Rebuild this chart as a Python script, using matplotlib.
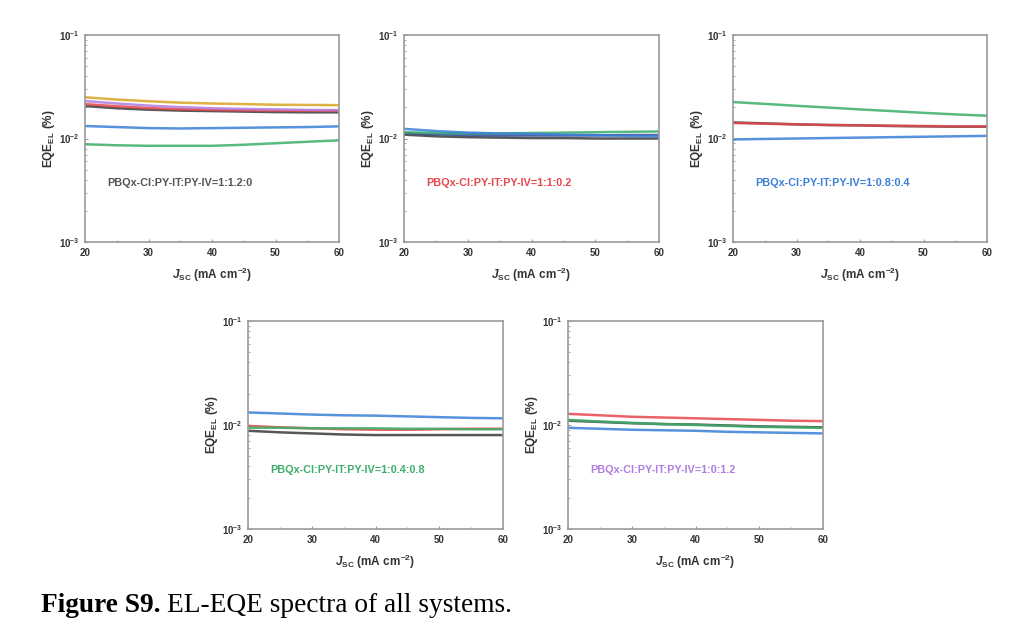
import matplotlib
matplotlib.use("Agg")
import matplotlib.pyplot as plt
from matplotlib.ticker import LogLocator, NullFormatter, MultipleLocator

plt.rcParams['font.family'] = ['Liberation Sans', 'DejaVu Sans']
plt.rcParams['mathtext.fontset'] = 'custom'
plt.rcParams['mathtext.rm'] = 'Liberation Sans'
plt.rcParams['mathtext.it'] = 'Liberation Sans:italic:bold'
plt.rcParams['mathtext.bf'] = 'Liberation Sans:bold'

jsc = [20, 25, 30, 35, 40, 45, 50, 55, 60]

# Panel 1: 1:1.2:0
p1_orange = [0.0250, 0.0238, 0.0229, 0.0222, 0.0218, 0.0215, 0.0212, 0.0211, 0.0210]
p1_purple = [0.0230, 0.0218, 0.0208, 0.0201, 0.0196, 0.0193, 0.0191, 0.0189, 0.0188]
p1_red = [0.0215, 0.0205, 0.0197, 0.0192, 0.0189, 0.0187, 0.0186, 0.0185, 0.0185]
p1_black = [0.0206, 0.0196, 0.0190, 0.0186, 0.0184, 0.0182, 0.0180, 0.0179, 0.0179]
p1_blue = [0.0132, 0.0129, 0.0126, 0.0125, 0.0126, 0.0127, 0.0128, 0.0129, 0.0131]
p1_green = [0.0088, 0.0086, 0.0085, 0.0085, 0.0085, 0.0087, 0.0090, 0.0093, 0.0096]

# Panel 2: 1:1:0.2
p2_red = [0.0113, 0.0110, 0.0108, 0.0107, 0.0107, 0.0107, 0.0107, 0.0108, 0.0108]
p2_green = [0.0115, 0.0113, 0.0112, 0.0112, 0.0113, 0.0114, 0.0115, 0.0116, 0.0117]
p2_blue = [0.0124, 0.0118, 0.0114, 0.0112, 0.0111, 0.0109, 0.0108, 0.0106, 0.0105]
p2_black = [0.0109, 0.0105, 0.0103, 0.0102, 0.0101, 0.0101, 0.0100, 0.0100, 0.0100]

# Panel 3: 1:0.8:0.4
p3_green = [0.0225, 0.0216, 0.0207, 0.0199, 0.0191, 0.0184, 0.0177, 0.0171, 0.0166]
p3_black = [0.0143, 0.0140, 0.0137, 0.0135, 0.0134, 0.0132, 0.0131, 0.0130, 0.0130]
p3_red = [0.0141, 0.0139, 0.0137, 0.0135, 0.0134, 0.0133, 0.0132, 0.0131, 0.0131]
p3_blue = [0.0098, 0.0099, 0.0100, 0.0101, 0.0102, 0.0103, 0.0104, 0.0105, 0.0106]

# Panel 4: 1:0.4:0.8
p4_blue = [0.0132, 0.0129, 0.0126, 0.0124, 0.0123, 0.0121, 0.0119, 0.0117, 0.0116]
p4_red = [0.0098, 0.0095, 0.0093, 0.0091, 0.0090, 0.0090, 0.0091, 0.0092, 0.0092]
p4_green = [0.0094, 0.0094, 0.0093, 0.0093, 0.0093, 0.0092, 0.0092, 0.0091, 0.0091]
p4_black = [0.0088, 0.0085, 0.0083, 0.0081, 0.0080, 0.0080, 0.0080, 0.0080, 0.0080]

# Panel 5: 1:0:1.2
p5_red = [0.0128, 0.0124, 0.0120, 0.0118, 0.0116, 0.0114, 0.0112, 0.0110, 0.0109]
p5_black = [0.0110, 0.0107, 0.0104, 0.0102, 0.0101, 0.0099, 0.0097, 0.0096, 0.0095]
p5_green = [0.0112, 0.0108, 0.0105, 0.0102, 0.0100, 0.0098, 0.0096, 0.0095, 0.0094]
p5_blue = [0.0094, 0.0092, 0.0090, 0.0089, 0.0088, 0.0086, 0.0085, 0.0084, 0.0083]

panel_labels = ["PBQx-Cl:PY-IT:PY-IV=1:1.2:0", "PBQx-Cl:PY-IT:PY-IV=1:1:0.2",
                "PBQx-Cl:PY-IT:PY-IV=1:0.8:0.4", "PBQx-Cl:PY-IT:PY-IV=1:0.4:0.8",
                "PBQx-Cl:PY-IT:PY-IV=1:0:1.2"]
x_ticks = [20, 30, 40, 50, 60]

C_BLACK = "#3a3a3a"
C_RED = "#e8474c"
C_BLUE = "#3a7fd8"
C_GREEN = "#3cae6a"
C_PURPLE = "#b07de0"
C_ORANGE = "#d9a521"
C_NAVY = "#2c4a9a"

panels = [
    ([(p1_black, C_BLACK), (p1_red, C_RED), (p1_purple, C_PURPLE), (p1_orange, C_ORANGE),
      (p1_blue, C_BLUE), (p1_green, C_GREEN)], "#555555"),
    ([(p2_black, C_BLACK), (p2_red, C_NAVY), (p2_green, C_GREEN), (p2_blue, C_BLUE)], C_RED),
    ([(p3_black, C_BLACK), (p3_red, C_RED), (p3_blue, C_BLUE), (p3_green, C_GREEN)], C_BLUE),
    ([(p4_black, C_BLACK), (p4_red, C_RED), (p4_green, C_GREEN), (p4_blue, C_BLUE)], C_GREEN),
    ([(p5_black, C_BLACK), (p5_green, C_GREEN), (p5_blue, C_BLUE), (p5_red, C_RED)], C_PURPLE),
]

W, H = 1024, 639
fig = plt.figure(figsize=(W / 100, H / 100), dpi=100)

boxes = [(85, 35, 254, 207), (404, 35, 255, 207), (733, 35, 254, 207),
         (248, 321, 255, 208), (568, 321, 255, 208)]

SPINE = "#9a9a9a"
for i, ((lines, tcol), (bx, by, bw, bh)) in enumerate(zip(panels, boxes)):
    ax = fig.add_axes([bx / W, 1 - (by + bh) / H, bw / W, bh / H])
    for ys, c in lines:
        ax.plot(jsc, ys, color=c, lw=1.8, alpha=0.85)
    ax.set_yscale('log')
    ax.set_ylim(1e-3, 1e-1)
    ax.set_xlim(20, 60)
    ax.set_xticks(x_ticks)
    ax.xaxis.set_minor_locator(MultipleLocator(5))
    ax.yaxis.set_major_locator(LogLocator(base=10, numticks=5))
    ax.yaxis.set_minor_locator(LogLocator(base=10, subs=range(2, 10), numticks=20))
    ax.yaxis.set_minor_formatter(NullFormatter())
    for s in ax.spines.values():
        s.set_color(SPINE)
        s.set_linewidth(1.2)
    ax.tick_params(which='both', direction='in', color=SPINE, labelcolor="#333333")
    ax.tick_params(which='major', length=2.5, width=0.8, labelsize=7, pad=4)
    ax.tick_params(which='minor', length=1.5, width=0.6)
    for lab in ax.get_xticklabels() + ax.get_yticklabels():
        lab.set_fontweight('bold')
    ax.set_ylabel(r"$\mathbf{EQE_{EL}}$ $\mathbf{(\%)}$", fontsize=8.5, color="#333333", labelpad=1)
    ax.set_xlabel(r"$J_{\mathbf{SC}}$ $\mathbf{(mA\ cm^{-2})}$", fontsize=8.5, color="#333333", labelpad=6)
    ax.text(0.086, 0.285, panel_labels[i], transform=ax.transAxes, color=tcol,
            fontsize=7.8, fontweight='bold', ha='left', va='center')

t1 = fig.text(41 / W, 1 - 612 / H, "Figure S9.", family='Liberation Serif', fontweight='bold',
              fontsize=19.7, ha='left', va='baseline', color='black')
fig.canvas.draw()
bb = t1.get_window_extent(renderer=fig.canvas.get_renderer())
fig.text(bb.x1 / W + 6 / W, 1 - 612 / H, "EL-EQE spectra of all systems.", family='Liberation Serif',
         fontsize=19.7, ha='left', va='baseline', color='black')

fig.savefig("out.png", dpi=100, facecolor='white')
